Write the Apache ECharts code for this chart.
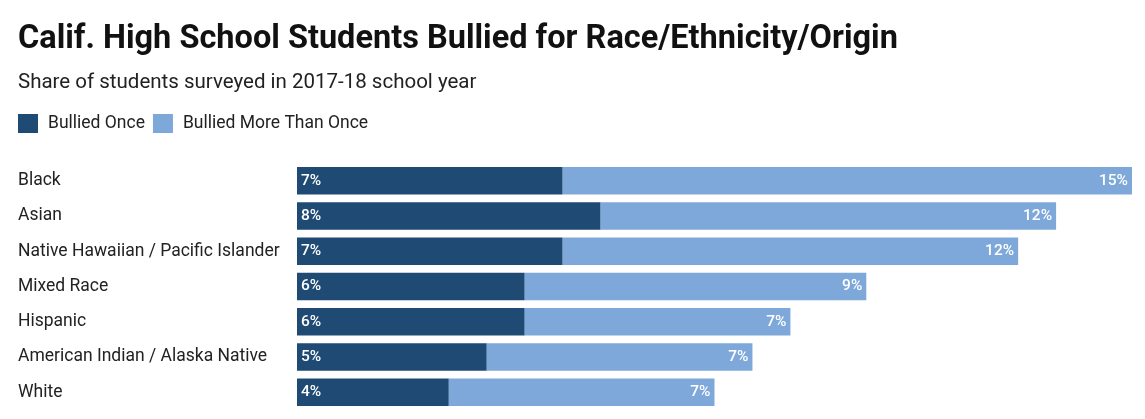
<!DOCTYPE html>
<html>
<head>
<meta charset="utf-8">
<script src="https://cdn.jsdelivr.net/npm/echarts@6/dist/echarts.min.js"></script>
<style>
    html, body { margin: 0; padding: 0; background: #fff; }
    #chart { width: 1145px; height: 419px; }
</style>
</head>
<body>
<div id="chart"></div>
<script>
// categories, top to bottom
var categories = ['Black', 'Asian', 'Native Hawaiian / Pacific Islander', 'Mixed Race', 'Hispanic', 'American Indian / Alaska Native', 'White'];
var bulliedOnce = [7, 8, 7, 6, 6, 5, 4];
var bulliedMore = [15, 12, 12, 9, 7, 7, 7];
var seriesNames = ['Bullied Once', 'Bullied More Than Once'];
var colorList = ['#1e4a74', '#7ea8da'];

var myChart = echarts.init(document.getElementById('chart'));
var font = 'Roboto, "Liberation Sans", sans-serif';

var option = {
    textStyle: { fontFamily: font },
    title: [{
        text: 'Calif. High School Students Bullied for Race/Ethnicity/Origin',
        left: 13,
        top: 18,
        textStyle: { fontSize: 32.5, fontWeight: 'bold', color: '#111', fontFamily: font }
    }, {
        text: 'Share of students surveyed in 2017-18 school year',
        left: 13,
        top: 67,
        textStyle: { fontSize: 20.5, fontWeight: 'normal', color: '#222', fontFamily: font }
    }],
    legend: {
        left: 13,
        top: 109,
        itemWidth: 20,
        itemHeight: 19,
        itemGap: 8,
        icon: 'rect',
        textStyle: { fontSize: 17.5, color: '#222', fontFamily: font, padding: [0, 0, 0, 5] },
        data: seriesNames
    },
    grid: {
        left: 297,
        right: 13,
        top: 163,
        height: 247,
        containLabel: false
    },
    xAxis: {
        type: 'value',
        min: 0,
        max: 22,
        show: false
    },
    yAxis: {
        type: 'category',
        inverse: true,
        data: categories,
        axisLine: { show: false },
        axisTick: { show: false },
        axisLabel: {
            align: 'left',
            margin: 279,
            fontSize: 17.5,
            color: '#222',
            fontFamily: font
        }
    },
    series: [{
        name: seriesNames[0],
        type: 'bar',
        stack: 'total',
        barCategoryGap: '22%',
        data: bulliedOnce,
        itemStyle: { color: colorList[0] },
        label: {
            show: true,
            position: 'insideLeft',
            distance: 4,
            color: '#fff',
            fontSize: 15.5,
            fontWeight: 500,
            fontFamily: font,
            formatter: '{c}%'
        }
    }, {
        name: seriesNames[1],
        type: 'bar',
        stack: 'total',
        data: bulliedMore,
        itemStyle: { color: colorList[1] },
        label: {
            show: true,
            position: 'insideRight',
            distance: 4,
            color: '#fff',
            fontSize: 15.5,
            fontWeight: 500,
            fontFamily: font,
            formatter: '{c}%'
        }
    }]
};

myChart.setOption(option);
</script>
</body>
</html>
